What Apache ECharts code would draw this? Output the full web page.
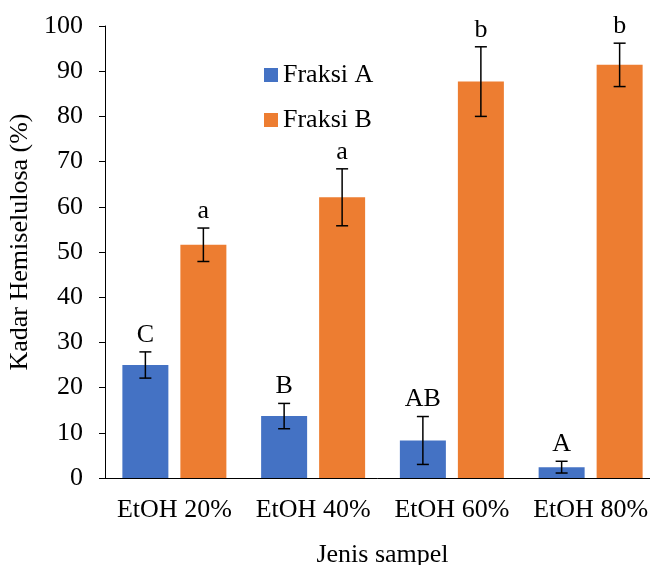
<!DOCTYPE html>
<html>
<head>
<meta charset="utf-8">
<script src="https://cdn.jsdelivr.net/npm/echarts@6/dist/echarts.min.js"></script>
<style>
  html, body { margin: 0; padding: 0; background: #fff; }
  #chart { width: 650px; height: 565px; }
</style>
</head>
<body>
<div id="chart"></div>
<script>
// data
const categories = ['EtOH 20%', 'EtOH 40%', 'EtOH 60%', 'EtOH 80%'];
const fraksiA = [25.0, 13.7, 8.3, 2.4];
const fraksiAErr = [2.9, 2.8, 5.3, 1.3];
const fraksiALetters = ['C', 'B', 'AB', 'A'];
const fraksiB = [51.6, 62.1, 87.7, 91.4];
const fraksiBErr = [3.7, 6.3, 7.7, 4.8];
const fraksiBLetters = ['a', 'a', 'b', 'b'];
const yTicks = [0, 10, 20, 30, 40, 50, 60, 70, 80, 90, 100];

const FONT = "'Liberation Serif', 'Times New Roman', serif";
const FS = 26;
const BAR_W = 46;
const BAR_GAP = 12;

const chart = echarts.init(document.getElementById('chart'));

// error bar + significance letter, offset to sit on its own bar
function errorSeries(values, errs, letters, side) {
  return {
    type: 'custom',
    z: 10,
    data: values.map((v, i) => [i, v, errs[i]]),
    renderItem: function (params, api) {
      const idx = api.value(0);
      const v = api.value(1);
      const e = api.value(2);
      const hi = api.coord([idx, v + e]);
      const lo = api.coord([idx, v - e]);
      const x = hi[0] + side * (BAR_W + BAR_GAP) / 2;
      const cap = 6;
      const lineStyle = { stroke: '#000', lineWidth: 1.5 };
      return {
        type: 'group',
        children: [
          { type: 'line', shape: { x1: x, y1: hi[1], x2: x, y2: lo[1] }, style: lineStyle },
          { type: 'line', shape: { x1: x - cap, y1: hi[1], x2: x + cap, y2: hi[1] }, style: lineStyle },
          { type: 'line', shape: { x1: x - cap, y1: lo[1], x2: x + cap, y2: lo[1] }, style: lineStyle },
          {
            type: 'text',
            style: {
              text: letters[idx],
              x: x,
              y: hi[1] - 4,
              align: 'center',
              verticalAlign: 'bottom',
              fontFamily: FONT,
              fontSize: FS,
              fill: '#000'
            }
          }
        ]
      };
    }
  };
}

const option = {
  animation: false,
  textStyle: { fontFamily: FONT, color: '#000' },
  grid: { left: 105, top: 26, width: 555, height: 452, outerBoundsMode: 'none', containLabel: false },
  legend: {
    data: ['Fraksi A', 'Fraksi B'],
    orient: 'vertical',
    left: 259,
    top: 57,
    icon: 'rect',
    itemWidth: 14,
    itemHeight: 14,
    itemGap: 19,
    textStyle: { fontFamily: FONT, fontSize: FS, color: '#000' }
  },
  xAxis: {
    type: 'category',
    data: categories,
    name: 'Jenis sampel',
    nameLocation: 'middle',
    nameGap: 64,
    nameTextStyle: { fontFamily: FONT, fontSize: FS, color: '#000' },
    axisLine: { lineStyle: { color: '#000', width: 1 } },
    axisTick: { alignWithLabel: true, length: 5, lineStyle: { color: '#000' } },
    axisLabel: { interval: 0, fontFamily: FONT, fontSize: FS, color: '#000', margin: 19 }
  },
  yAxis: {
    type: 'value',
    min: yTicks[0],
    max: yTicks[yTicks.length - 1],
    interval: yTicks[1] - yTicks[0],
    name: 'Kadar Hemiselulosa (%)',
    nameLocation: 'middle',
    nameGap: 69,
    nameTextStyle: { fontFamily: FONT, fontSize: FS, color: '#000', padding: [0, 0, 0, 20] },
    splitLine: { show: false },
    axisLine: { show: true, lineStyle: { color: '#000', width: 1 } },
    axisTick: { show: true, length: 6, lineStyle: { color: '#000' } },
    axisLabel: { fontFamily: FONT, fontSize: FS, color: '#000', margin: 22 }
  },
  series: [
    {
      name: 'Fraksi A',
      type: 'bar',
      data: fraksiA,
      barWidth: BAR_W,
      barGap: (BAR_GAP / BAR_W * 100) + '%',
      itemStyle: { color: '#4472C4' }
    },
    {
      name: 'Fraksi B',
      type: 'bar',
      data: fraksiB,
      barWidth: BAR_W,
      itemStyle: { color: '#ED7D31' }
    },
    errorSeries(fraksiA, fraksiAErr, fraksiALetters, -1),
    errorSeries(fraksiB, fraksiBErr, fraksiBLetters, 1)
  ]
};

chart.setOption(option);
</script>
</body>
</html>
